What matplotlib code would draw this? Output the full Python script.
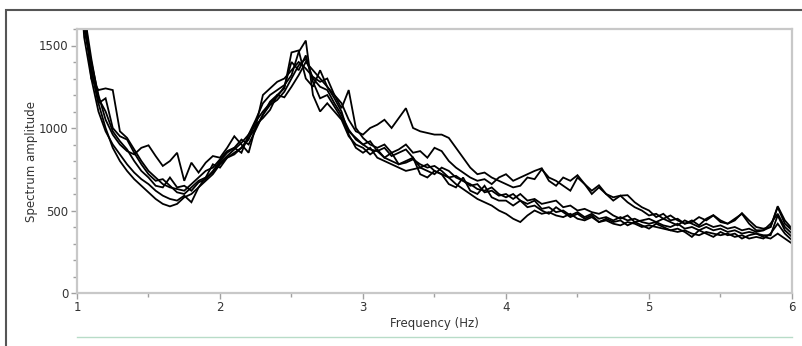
import numpy as np
import matplotlib
matplotlib.use("Agg")
import matplotlib.pyplot as plt
from matplotlib.patches import Rectangle
from matplotlib.lines import Line2D
from matplotlib.ticker import MultipleLocator

# frequency bins (Hz)
freq = np.linspace(1.0, 6.0, 101)

# spectrum amplitude of six records (1.00 .. 6.00 Hz, step 0.05)
rec_a = [2400, 1650, 1350, 1150, 1000, 880, 800, 740, 690, 650,
         610, 570, 540, 525, 540, 580, 600, 640, 680, 720,
         780, 820, 850, 880, 940, 1000, 1080, 1140, 1170, 1220,
         1300, 1380, 1420, 1300, 1250, 1230, 1150, 1080, 990, 930,
         900, 870, 860, 820, 800, 780, 790, 810, 780, 760,
         770, 740, 700, 660, 630, 600, 570, 550, 530, 500,
         480, 450, 430, 470, 500, 480, 490, 470, 460, 480,
         450, 440, 460, 430, 440, 420, 410, 430, 420, 400,
         410, 400, 390, 380, 370, 380, 360, 350, 370, 360,
         350, 360, 340, 350, 330, 340, 330, 360, 420, 360,
         320]
rec_b = [2300, 1600, 1400, 1200, 1050, 960, 900, 860, 840, 880,
         895, 830, 770, 800, 850, 680, 790, 730, 790, 830,
         820, 880, 950, 900, 850, 1010, 1200, 1240, 1280, 1300,
         1350, 1400, 1360, 1310, 1280, 1300, 1200, 1150, 1050, 980,
         960, 1000, 1020, 1050, 1000, 1060, 1120, 1000, 980, 970,
         960, 960, 940, 880, 820, 760, 720, 730, 700, 680,
         660, 640, 650, 700, 690, 750, 700, 680, 650, 620,
         700, 660, 600, 640, 600, 560, 590, 550, 520, 500,
         470, 480, 450, 470, 440, 420, 430, 460, 440, 470,
         430, 420, 450, 480, 420, 380, 380, 400, 520, 420,
         380]
rec_c = [2500, 1750, 1300, 1230, 1240, 1230, 980, 940, 870, 800,
         740, 700, 660, 640, 630, 620, 660, 700, 740, 760,
         810, 860, 880, 850, 960, 1050, 1150, 1200, 1230, 1260,
         1320, 1460, 1530, 1200, 1100, 1150, 1100, 1050, 950, 900,
         880, 840, 870, 820, 850, 780, 800, 820, 720, 700,
         740, 720, 660, 640, 700, 620, 600, 650, 580, 560,
         560, 530, 560, 520, 530, 500, 480, 520, 490, 460,
         480, 450, 470, 430, 450, 430, 440, 410, 430, 410,
         390, 420, 400, 380, 390, 370, 340, 380, 360, 340,
         370, 350, 360, 330, 350, 360, 340, 330, 360, 330,
         300]
rec_d = [2200, 1550, 1300, 1100, 980, 900, 840, 780, 730, 690,
         660, 620, 590, 570, 560, 590, 550, 640, 700, 730,
         790, 830, 870, 910, 960, 1020, 1060, 1110, 1200, 1240,
         1458, 1470, 1300, 1250, 1350, 1250, 1200, 1120, 1230, 1000,
         940, 900, 880, 900, 850, 870, 900, 850, 860, 820,
         880, 860, 800, 760, 730, 700, 680, 690, 660, 700,
         720, 680, 700, 720, 740, 756, 680, 650, 700, 680,
         714, 660, 620, 653, 600, 580, 590, 593, 550, 520,
         500, 460, 480, 440, 450, 420, 440, 410, 450, 472,
         440, 420, 440, 484, 440, 400, 390, 400, 526, 440,
         390]
rec_e = [2600, 1700, 1420, 1180, 1100, 980, 920, 870, 800, 740,
         700, 650, 640, 700, 640, 650, 620, 670, 690, 740,
         800, 850, 880, 930, 900, 990, 1080, 1160, 1200, 1186,
         1250, 1320, 1400, 1350, 1300, 1250, 1180, 1100, 960, 880,
         850, 880, 820, 800, 780, 760, 740, 750, 760, 740,
         720, 760, 740, 700, 680, 660, 630, 620, 640, 600,
         580, 600, 560, 540, 560, 510, 520, 490, 500, 470,
         490, 460, 480, 450, 460, 440, 460, 440, 450, 430,
         420, 430, 410, 400, 420, 390, 400, 380, 400, 380,
         390, 370, 380, 360, 370, 360, 350, 350, 470, 380,
         340]
rec_f = [2350, 1620, 1360, 1150, 1180, 1000, 950, 930, 850, 780,
         720, 680, 690, 650, 610, 600, 640, 680, 700, 780,
         760, 820, 840, 880, 930, 1040, 1100, 1150, 1190, 1250,
         1400, 1350, 1440, 1280, 1180, 1200, 1130, 1060, 980, 940,
         900, 920, 860, 880, 830, 850, 870, 820, 760, 780,
         740, 720, 700, 710, 680, 650, 660, 610, 620, 590,
         600, 570, 600, 560, 570, 540, 550, 560, 520, 530,
         500, 510, 490, 480, 500, 470, 450, 470, 430, 440,
         450, 430, 450, 430, 410, 440, 420, 400, 420, 400,
         410, 390, 400, 380, 390, 370, 380, 420, 480, 400,
         360]

records = [rec_a, rec_b, rec_c, rec_d, rec_e, rec_f]

fig = plt.figure(figsize=(8.03, 3.46), dpi=100)
ax = fig.add_axes([77 / 803, 53 / 346, 715 / 803, 264 / 346])

for rec in records:
    ax.plot(freq, rec, color="black", lw=1.3, solid_joinstyle="miter")

ax.set_xlim(1, 6)
ax.set_ylim(0, 1600)
ax.xaxis.set_major_locator(MultipleLocator(1))
ax.xaxis.set_minor_locator(MultipleLocator(0.5))
ax.yaxis.set_major_locator(MultipleLocator(500))
ax.yaxis.set_minor_locator(MultipleLocator(100))

for sp in ax.spines.values():
    sp.set_color("#c8c8c8")
    sp.set_linewidth(1.6)
ax.tick_params(which="both", direction="out", color="#a0a0a0", width=1,
               labelsize=8.5, labelcolor="#333333")
ax.tick_params(which="major", length=4, pad=2)
ax.tick_params(which="minor", length=3)

ax.set_xlabel("Frequency (Hz)", fontsize=8.5, color="#333333", labelpad=2)
ax.set_ylabel("Spectrum amplitude", fontsize=8.5, color="#333333", labelpad=1)

# outer frame of the panel
fig.patches.append(Rectangle((6 / 803, -0.1), 1.2, (336 / 346) + 0.1,
                             transform=fig.transFigure, fill=False,
                             edgecolor="#555555", lw=1.5))
# faint coloured line under the plot
fig.lines.append(Line2D([77 / 803, 792 / 803], [9 / 346, 9 / 346],
                        transform=fig.transFigure, color="#b8dcc8", lw=1))

fig.savefig("out.png", dpi=100)
